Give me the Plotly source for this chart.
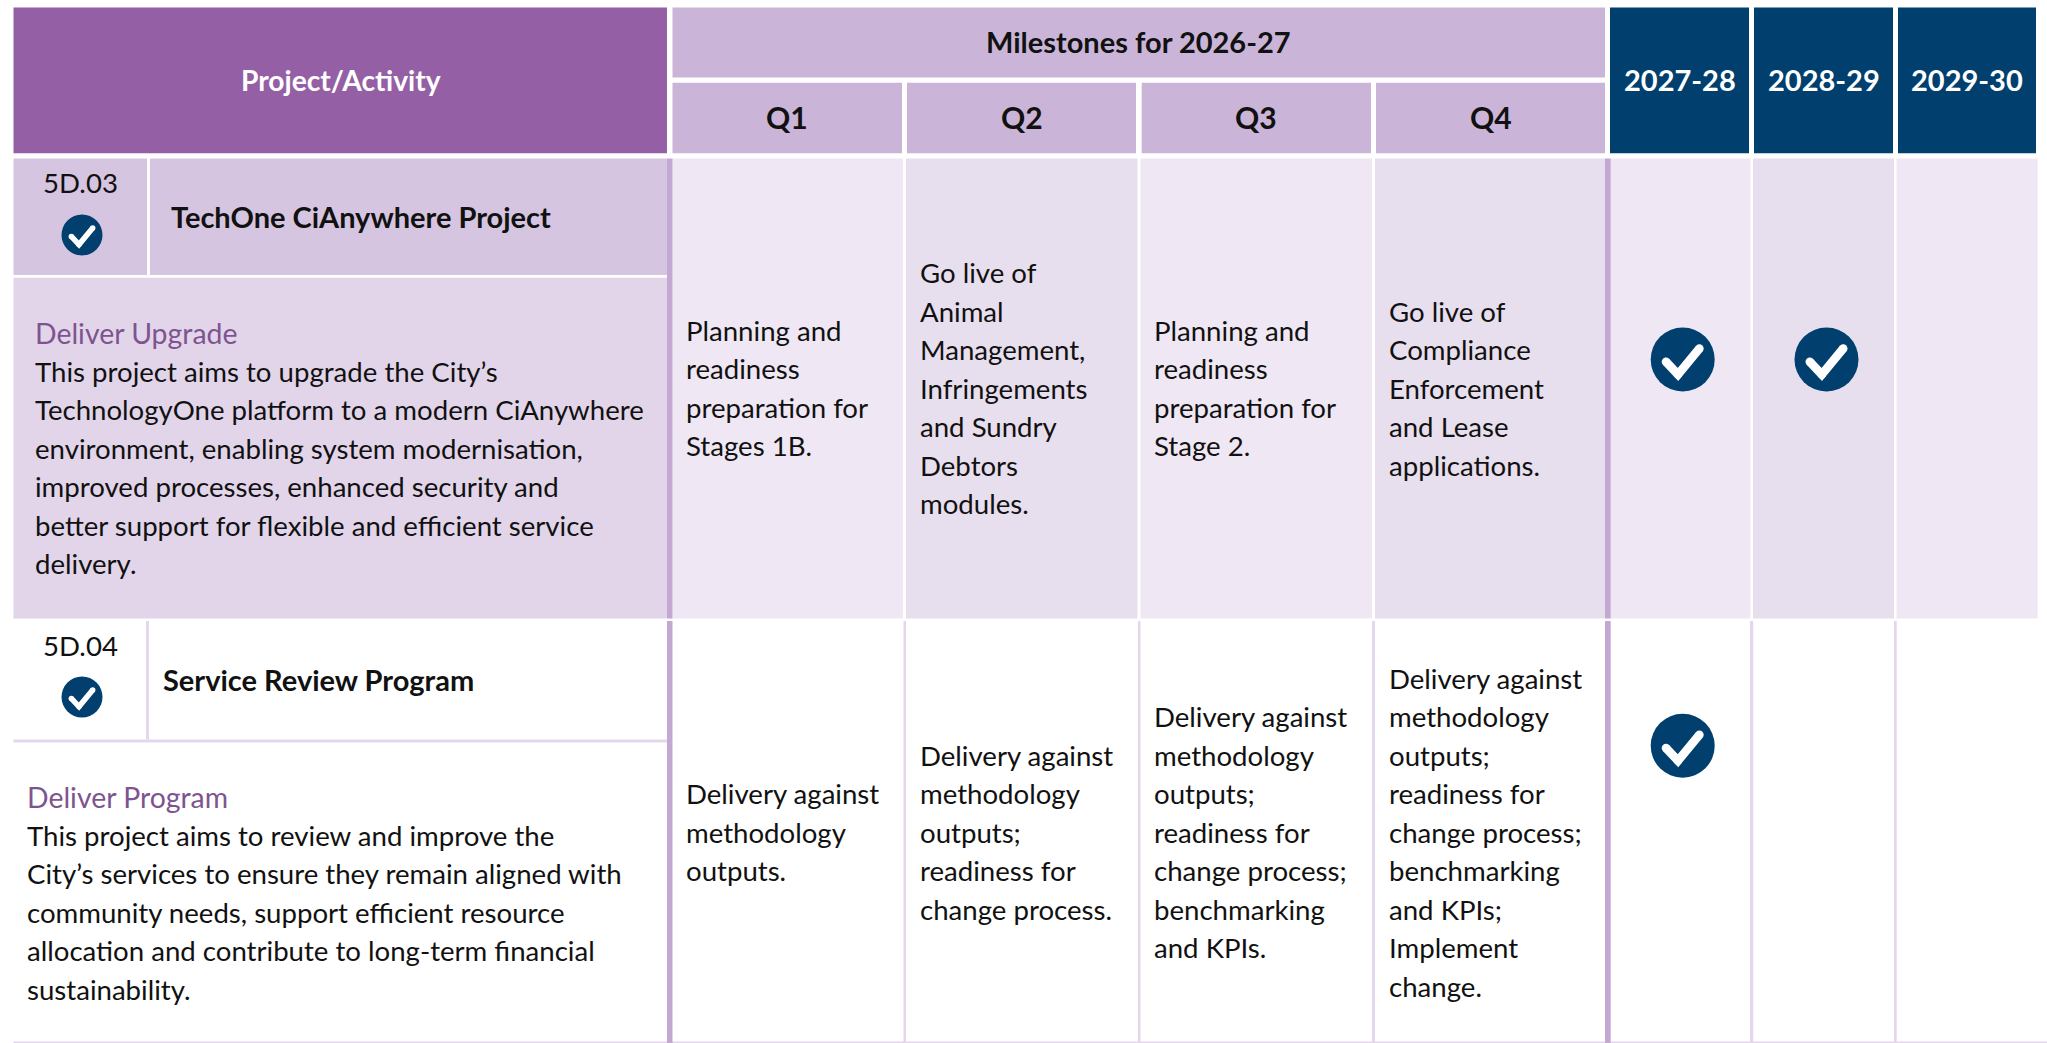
import plotly.graph_objects as go

FONT = "Lato"
FS = 27.6
FS_B = 29
LH = 38.5

header_main = "Project/Activity"
header_milestones = "Milestones for 2026-27"
quarters = ["Q1", "Q2", "Q3", "Q4"]
years = ["2027-28", "2028-29", "2029-30"]

row_ids = ["5D.03", "5D.04"]
row_titles = ["TechOne CiAnywhere Project", "Service Review Program"]
row_subtitles = ["Deliver Upgrade", "Deliver Program"]
row_desc = [
    ["This project aims to upgrade the City’s",
     "TechnologyOne platform to a modern CiAnywhere",
     "environment, enabling system modernisation,",
     "improved processes, enhanced security and",
     "better support for flexible and efficient service",
     "delivery."],
    ["This project aims to review and improve the",
     "City’s services to ensure they remain aligned with",
     "community needs, support efficient resource",
     "allocation and contribute to long-term financial",
     "sustainability."],
]
milestones = [
    [["Planning and", "readiness", "preparation for", "Stages 1B."],
     ["Go live of", "Animal", "Management,", "Infringements", "and Sundry", "Debtors", "modules."],
     ["Planning and", "readiness", "preparation for", "Stage 2."],
     ["Go live of", "Compliance", "Enforcement", "and Lease", "applications."]],
    [["Delivery against", "methodology", "outputs."],
     ["Delivery against", "methodology", "outputs;", "readiness for", "change process."],
     ["Delivery against", "methodology", "outputs;", "readiness for", "change process;", "benchmarking", "and KPIs."],
     ["Delivery against", "methodology", "outputs;", "readiness for", "change process;", "benchmarking", "and KPIs;", "Implement", "change."]],
]
year_checks = [[True, True, False], [True, False, False]]

# palette
C_HEAD = "#955FA5"; C_MILE = "#CAB5D9"; C_NAVY = "#003F6E"
C_ROWHEAD = "#D6C5E0"; C_DESC = "#E2D5EA"; C_A = "#EFE8F4"; C_B = "#E8DFEE"
C_BAR = "#C4A8D4"; C_SUB = "#7E5490"; C_LINE = "#E2D7EC"

# geometry
L, R_HEAD = 13.5, 667
BAR_R = 672.5
Q_HEAD_X = [(672.5, 902), (907, 1136), (1141.7, 1371), (1376, 1605)]
Q_BODY_X = [(672.5, 903), (906, 1137.5), (1140.5, 1372), (1375, 1605)]
Y_HEAD_X = [(1610, 1749), (1754, 1893), (1898, 2036)]
Y_BODY_X = [(1610.7, 1750.5), (1753, 1894), (1896.5, 2037.7)]
DIVIDERS = [(903.5, 906), (1138, 1140.5), (1372, 1375), (1750, 1753.2), (1894, 1896.7)]
ROWS = [(158.5, 618.5), (621, 1043)]
HEAD_B = [275, 739.5]
DESC_T = [277.7, 742.5]
ID_R = 147

shapes = []
def rect(x0, y0, x1, y1, c):
    shapes.append(dict(type="rect", xref="x", yref="y", x0=x0, y0=y0, x1=x1, y1=y1,
                       fillcolor=c, line=dict(width=0), layer="below"))

annos = []
def text(x, y, s, color="#111111", bold=False, anchor="left", size=FS):
    annos.append(dict(x=x, y=y, xref="x", yref="y", text=f"<b>{s}</b>" if bold else s, showarrow=False,
                      xanchor=anchor, yanchor="middle", align=anchor,
                      font=dict(family=FONT, size=size, color=color)))

def check(cx, cy, r):
    shapes.append(dict(type="circle", xref="x", yref="y", x0=cx-r, y0=cy-r, x1=cx+r, y1=cy+r,
                       fillcolor=C_NAVY, line=dict(width=0)))
    k = r / 32.0
    pts = [(-16.7, 2.3), (-4.7, 15), (16.7, -11)]
    w = 8.6 * k
    p = " ".join(("M" if i == 0 else "L") + f"{cx+a*k:.2f},{cy+b*k:.2f}" for i, (a, b) in enumerate(pts))
    shapes.append(dict(type="path", xref="x", yref="y", path=p,
                       line=dict(color="white", width=w)))
    for a, b in pts:
        shapes.append(dict(type="circle", xref="x", yref="y", x0=cx+a*k-w/2, y0=cy+b*k-w/2,
                           x1=cx+a*k+w/2, y1=cy+b*k+w/2, fillcolor="white", line=dict(width=0)))

# header
rect(L, 7.5, R_HEAD, 153.3, C_HEAD)
rect(672.5, 7.5, 1605, 77.4, C_MILE)
for a, b in Q_HEAD_X:
    rect(a, 82.7, b, 153.3, C_MILE)
for a, b in Y_HEAD_X:
    rect(a, 7.5, b, 153.3, C_NAVY)
text(341, 79.5, header_main, "white", True, "center", 28.2)
text(1138, 41.5, header_milestones, "#111111", True, "center", FS_B)
for (a, b), q in zip(Q_HEAD_X, quarters):
    text((a+b)/2, 116.8, q, "#111111", True, "center", 30)
for (a, b), y in zip(Y_HEAD_X, years):
    text((a+b)/2, 79, y, "white", True, "center", FS_B)

# rows
TITLE_X = [168.5, 160.5]
DESC_X = [32.5, 24.5]
for i, (t, b) in enumerate(ROWS):
    if i == 0:
        rect(L, t, ID_R, HEAD_B[0], C_ROWHEAD)
        rect(ID_R+3, t, R_HEAD, HEAD_B[0], C_ROWHEAD)
        rect(L, DESC_T[0], R_HEAD, b, C_DESC)
        for j, (a, c) in enumerate(Q_BODY_X):
            rect(a, t, c, b, C_A if j % 2 == 0 else C_B)
        for j, (a, c) in enumerate(Y_BODY_X):
            rect(a, t, c, b, C_A if j % 2 == 0 else C_B)
    else:
        rect(ID_R-1, t, ID_R+2, HEAD_B[1], C_LINE)
        rect(L, HEAD_B[1], R_HEAD, DESC_T[1], C_LINE)
        for a, c in DIVIDERS:
            rect(a, t, c, b, C_LINE)
        rect(L, 1041.5, 2047, 1043, C_LINE)
    rect(R_HEAD, t, BAR_R, b, C_BAR)
    rect(1605, t, 1610.7, b, C_BAR)
    id_y = t + 24
    text(80, id_y, row_ids[i], anchor="center")
    check(82, [235, 697][i], 20.5)
    text(TITLE_X[i], [216, 679][i], row_titles[i], bold=True, size=FS_B)
    y0 = [332.5, 796.5][i]
    text(DESC_X[i], y0, row_subtitles[i], C_SUB, size=28.4)
    for k, line in enumerate(row_desc[i]):
        text(DESC_X[i], y0 + (k+1)*LH, line)
    cy = (t + b) / 2 - 0.5 + [0, 0.8][i]
    for j, cell in enumerate(milestones[i]):
        x = [683.5, 917.5, 1151.5, 1386.5][j]
        n = len(cell)
        for k, line in enumerate(cell):
            text(x, cy + (k - (n-1)/2)*LH, line)
    for j, on in enumerate(year_checks[i]):
        if on:
            check([1682.7, 1826.5, 1970][j], [359.5, 745.7][i], 32)

fig = go.Figure()
fig.update_layout(width=2047, height=1043, margin=dict(l=0, r=0, t=0, b=0),
                  paper_bgcolor="white", plot_bgcolor="white", showlegend=False,
                  shapes=shapes, annotations=annos,
                  xaxis=dict(range=[0, 2047], visible=False, fixedrange=True),
                  yaxis=dict(range=[1043, 0], visible=False, fixedrange=True))
fig.write_html("out.html", config=dict(displayModeBar=False),
               post_script="document.body.style.margin='0';document.body.style.overflow='hidden';")
